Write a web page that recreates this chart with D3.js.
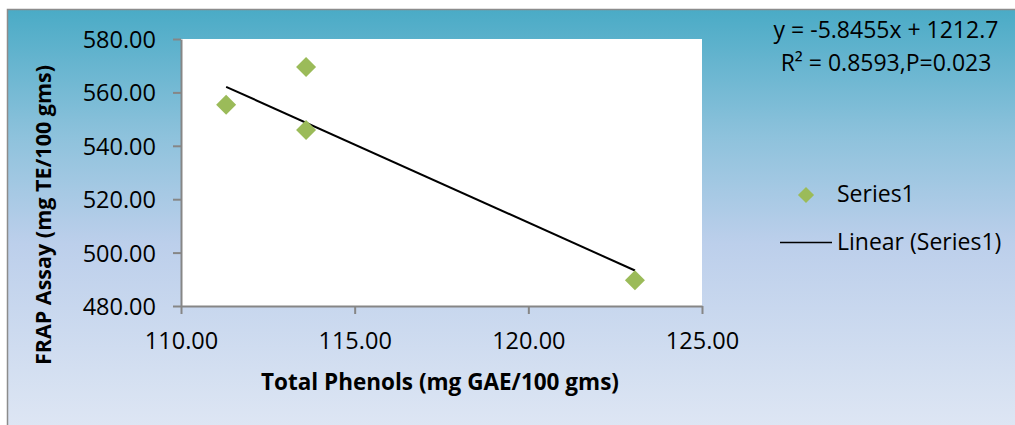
<!DOCTYPE html>
<html>
<head>
<meta charset="utf-8">
<script src="https://cdn.jsdelivr.net/npm/d3@7"></script>
<style>
  html, body { margin: 0; padding: 0; background: #fff; }
  svg { display: block; font-family: "Open Sans", sans-serif; }
</style>
</head>
<body>
<div id="chart"></div>
<script>
// data
const phenols = [111.3, 113.6, 113.6, 123.07];
const frap = [555.4, 569.5, 545.9, 489.6];
const xTicks = [110, 115, 120, 125];
const yTicks = [480, 500, 520, 540, 560, 580];
const trendSlope = -5.8455;
const trendIntercept = 1212.7;
const equationLines = ['y = -5.8455x + 1212.7', 'R\u00b2 = 0.8593,P=0.023'];
const legendLabels = ['Series1', 'Linear (Series1)'];

const width = 1015, height = 425;
const plot = { left: 181, right: 702, top: 39, bottom: 306 };
const green = '#9bbb59';
const axisColor = '#868686';

const svg = d3.select('#chart').append('svg')
    .attr('width', width)
    .attr('height', height);

// background gradient
const grad = svg.append('defs').append('linearGradient')
    .attr('id', 'bg')
    .attr('x1', 0).attr('y1', 0).attr('x2', 0).attr('y2', 1);
grad.append('stop').attr('offset', '0%').attr('stop-color', '#4aabc6');
grad.append('stop').attr('offset', '30%').attr('stop-color', '#8ec2dc');
grad.append('stop').attr('offset', '55%').attr('stop-color', '#bccfeb');
grad.append('stop').attr('offset', '100%').attr('stop-color', '#dfe7f4');

svg.append('rect')
    .attr('x', 7.5).attr('y', 9.5)
    .attr('width', width).attr('height', height)
    .attr('fill', 'url(#bg)')
    .attr('stroke', '#8c8c8c')
    .attr('stroke-width', 1.5);

// plot area
svg.append('rect')
    .attr('x', plot.left).attr('y', plot.top)
    .attr('width', plot.right - plot.left)
    .attr('height', plot.bottom - plot.top)
    .attr('fill', '#fff');

const x = d3.scaleLinear().domain([110, 125]).range([plot.left, plot.right]);
const y = d3.scaleLinear().domain([480, 580]).range([plot.bottom, plot.top]);

const xAxis = svg.append('g')
    .attr('transform', `translate(0,${plot.bottom})`)
    .call(d3.axisBottom(x).tickValues(xTicks).tickFormat(d3.format('.2f')).tickSize(8).tickSizeOuter(0));
const yAxis = svg.append('g')
    .attr('transform', `translate(${plot.left},0)`)
    .call(d3.axisLeft(y).tickValues(yTicks).tickFormat(d3.format('.2f')).tickSize(8).tickSizeOuter(0));

[xAxis, yAxis].forEach(g => {
    g.select('.domain').attr('stroke', axisColor).attr('stroke-width', 2);
    g.selectAll('.tick line').attr('stroke', axisColor).attr('stroke-width', 2);
    g.selectAll('.tick text')
        .attr('fill', '#000')
        .style('font-size', '23.5px')
        .style('font-family', '"Open Sans", sans-serif');
});
xAxis.selectAll('.tick text').attr('dy', '1.35em');
yAxis.selectAll('.tick text').attr('x', -25).attr('dy', '0.36em');

// trend line
const trendX = d3.extent(phenols);
svg.append('line')
    .attr('x1', x(trendX[0])).attr('y1', y(trendSlope * trendX[0] + trendIntercept))
    .attr('x2', x(trendX[1])).attr('y2', y(trendSlope * trendX[1] + trendIntercept))
    .attr('stroke', '#000')
    .attr('stroke-width', 2);

// markers
const diamond = d3.symbol().type(d3.symbolSquare).size(200);
svg.append('g')
    .selectAll('path')
    .data(phenols.map((v, i) => [v, frap[i]]))
    .enter()
    .append('path')
    .attr('d', diamond)
    .attr('transform', d => `translate(${x(d[0])},${y(d[1])}) rotate(45)`)
    .attr('fill', green);

// axis titles
svg.append('text')
    .attr('x', 440).attr('y', 390)
    .attr('text-anchor', 'middle')
    .style('font-size', '22.5px')
    .style('font-weight', 'bold')
    .text('Total Phenols (mg GAE/100 gms)');

svg.append('text')
    .attr('transform', 'translate(51,215) rotate(-90)')
    .attr('text-anchor', 'middle')
    .style('font-size', '21.5px')
    .style('font-weight', 'bold')
    .text('FRAP Assay (mg TE/100 gms)');

// equation
svg.append('g')
    .selectAll('text')
    .data(equationLines)
    .enter()
    .append('text')
    .attr('x', 886)
    .attr('y', (d, i) => 38 + i * 33)
    .attr('text-anchor', 'middle')
    .style('font-size', '23px')
    .text(d => d);

// legend
svg.append('path')
    .attr('d', d3.symbol().type(d3.symbolSquare).size(130))
    .attr('transform', 'translate(806,195) rotate(45)')
    .attr('fill', green);
svg.append('line')
    .attr('x1', 780).attr('x2', 832)
    .attr('y1', 242.5).attr('y2', 242.5)
    .attr('stroke', '#000')
    .attr('stroke-width', 1.5);
svg.append('g')
    .selectAll('text')
    .data(legendLabels)
    .enter()
    .append('text')
    .attr('x', 837)
    .attr('y', (d, i) => 202 + i * 48)
    .style('font-size', '23px')
    .text(d => d);
</script>
</body>
</html>
